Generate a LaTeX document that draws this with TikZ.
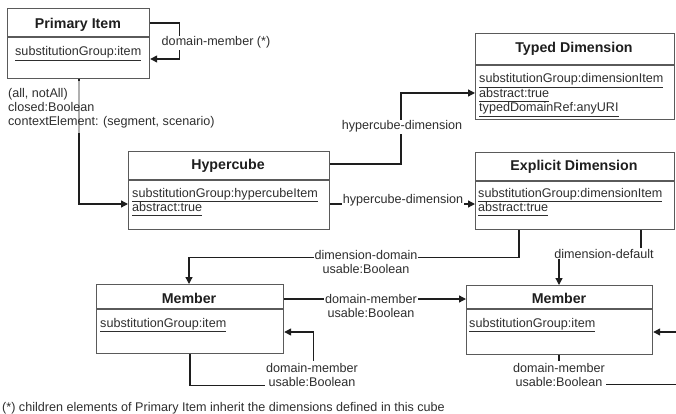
\documentclass[tikz,border=0pt]{standalone}
\usepackage{fontspec}
\setmainfont{Liberation Sans}
\usetikzlibrary{calc,arrows.meta}

\definecolor{boxline}{HTML}{5A5A5A}
\definecolor{wire}{HTML}{1E1E1E}
\definecolor{ink}{HTML}{2E2E2E}

% underlined attribute with a fixed underline depth
\newcommand{\attr}[1]{\underline{#1\vphantom{p}}}
\newcommand{\bodyfont}{\fontsize{12.6}{14}\selectfont}
\newcommand{\titlefont}{\fontsize{14.2}{16}\selectfont\bfseries}

\tikzset{
  umlbox/.style={draw=boxline, line width=1.2pt, rectangle, inner sep=0pt, anchor=north west},
  sepline/.style={draw=boxline, line width=1.1pt},
  title/.style={font=\titlefont, text=wire, inner sep=0pt, anchor=base},
  attrs/.style={font=\bodyfont, text=ink, inner sep=0pt, anchor=base west, align=left},
  conn/.style={draw=wire, line width=1.3pt, -{Triangle[length=7pt,width=7pt]}},
  lbl/.style={font=\bodyfont, text=ink, fill=white, inner sep=1pt, anchor=base},
}

\begin{document}
\begin{tikzpicture}[x=1pt, y=-1pt]
\useasboundingbox (0,0) rectangle (676,414);
\clip (0,0) rectangle (676,414);

% ---- class boxes ----
\node[umlbox, minimum width=142pt, minimum height=70pt] (pi) at (7,8) {};
\node[umlbox, minimum width=199pt, minimum height=86pt] (td) at (475,33) {};
\node[umlbox, minimum width=201pt, minimum height=78pt] (hc) at (128,151) {};
\node[umlbox, minimum width=199pt, minimum height=77pt] (ed) at (475,152) {};
\node[umlbox, minimum width=187pt, minimum height=69pt] (ml) at (96,284) {};
\node[umlbox, minimum width=186pt, minimum height=69pt] (mr) at (466,285) {};

% header separators
\draw[sepline] ($(pi.north west)+(0,29)$) -- ($(pi.north east)+(0,29)$);
\draw[sepline] ($(td.north west)+(0,32)$) -- ($(td.north east)+(0,32)$);
\draw[sepline] ($(hc.north west)+(0,29)$) -- ($(hc.north east)+(0,29)$);
\draw[sepline] ($(ed.north west)+(0,29)$) -- ($(ed.north east)+(0,29)$);
\draw[sepline] ($(ml.north west)+(0,25)$) -- ($(ml.north east)+(0,25)$);
\draw[sepline] ($(mr.north west)+(0,24)$) -- ($(mr.north east)+(0,24)$);

% titles
\node[title] (pit) at (78,29) {Primary Item};
\node[title] (tdt) at (574,53) {Typed Dimension};
\node[title] (hct) at (228,169) {Hypercube};
\node[title] (edt) at (574,170) {Explicit Dimension};
\node[title] (mlt) at (189,303) {Member};
\node[title] (mrt) at (559,303) {Member};

% attributes
\node[attrs] (pia) at (15,56) {\attr{substitutionGroup:item}};
\node[attrs] (tda) at (479,83) {\begin{tabular}[t]{@{}l@{}}\attr{substitutionGroup:dimensionItem}\\ \attr{abstract:true}\\ \attr{typedDomainRef:anyURI}\end{tabular}};
\node[attrs] (hca) at (132,197) {\begin{tabular}[t]{@{}l@{}}\attr{substitutionGroup:hypercubeItem}\\ \attr{abstract:true}\end{tabular}};
\node[attrs] (eda) at (478,197) {\begin{tabular}[t]{@{}l@{}}\attr{substitutionGroup:dimensionItem}\\ \attr{abstract:true}\end{tabular}};
\node[attrs] (mla) at (100,327) {\attr{substitutionGroup:item}};
\node[attrs] (mra) at (469,327) {\attr{substitutionGroup:item}};

% ---- connectors ----
% Primary Item self relation
\draw[conn] ($(pi.north east)+(0,15)$) -- ++(29,0) |- ($(pi.north east)+(0,51)$);
\node[lbl] (l1) at (216,46) {domain-member (*)};

% Primary Item -> Hypercube; the stretch behind its label is faded
\draw[conn] ($(pi.south west)+(72,0)$) |- ($(hc.north west)+(0,53)$);
\draw[white, opacity=0.65, line width=1.6pt] ($(pi.south west)+(72,2)$) -- ($(pi.south west)+(72,54)$);
\node[attrs] (l2) at (8,98)
  {\begin{tabular}[t]{@{}l@{}}(all, notAll)\\ closed:Boolean\\ contextElement: (segment, scenario)\end{tabular}};

% Hypercube -> Typed Dimension
\draw[conn] ($(hc.north east)+(0,13)$) -| ($(td.north west)+(-74,60)$) -- ($(td.north west)+(0,60)$);
\node[lbl] (l3) at (402,130) {hypercube-dimension};

% Hypercube -> Explicit Dimension
\draw[conn] ($(hc.north east)+(0,53)$) -- ($(ed.north west)+(0,52)$);
\node[lbl] (l4) at (403,203) {hypercube-dimension};

% Explicit Dimension -> Member (domain)
\draw[conn] ($(ed.south west)+(44,0)$) -- ++(0,27) -| ($(ml.north west)+(93,0)$);
\node[lbl] (l5) at (366,259) {\begin{tabular}[t]{@{}c@{}}dimension-domain\\ usable:Boolean\end{tabular}};

% Explicit Dimension -> Member (default)
\draw[conn] ($(ed.south west)+(166,0)$) -- ++(0,27) -| ($(mr.north west)+(93,0)$);
\node[lbl] (l6) at (604,258) {dimension-default};

% Member -> Member
\draw[conn] ($(ml.north east)+(0,15)$) -- ($(mr.north west)+(0,14)$);
\node[lbl] (l7) at (371,303) {\begin{tabular}[t]{@{}c@{}}domain-member\\ usable:Boolean\end{tabular}};

% Member self relations
\draw[conn] ($(ml.south west)+(94,0)$) -- ++(0,31) -| ($(ml.north east)+(29,48)$) -- ($(ml.north east)+(0,48)$);
\node[lbl] (l8) at (312,372) {\begin{tabular}[t]{@{}c@{}}domain-member\\ usable:Boolean\end{tabular}};

\draw[conn] ($(mr.south west)+(93,0)$) -- ++(0,29) -| ($(mr.north east)+(38,47)$) -- ($(mr.north east)+(0,47)$);
\node[lbl] (l9) at (559,372) {\begin{tabular}[t]{@{}c@{}}domain-member\\ usable:Boolean\end{tabular}};

% footnote
\node[attrs] (fn) at (2,411) {(*) children elements of Primary Item inherit the dimensions defined in this cube};
\end{tikzpicture}
\end{document}
